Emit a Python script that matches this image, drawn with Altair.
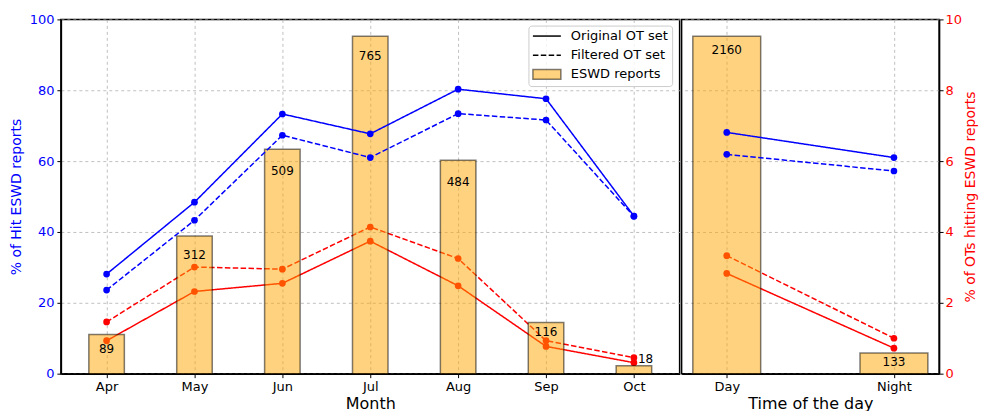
import altair as alt
import pandas as pd

# ---------------- data ----------------
months = ["Apr", "May", "Jun", "Jul", "Aug", "Sep", "Oct"]
month_reports = [89, 312, 509, 765, 484, 116, 18]
month_hit_orig = [28.1, 48.4, 73.3, 67.7, 80.3, 77.6, 44.5]
month_hit_filt = [23.6, 43.3, 67.3, 61.0, 73.4, 71.6, 44.4]
month_ot_orig = [0.93, 2.32, 2.55, 3.74, 2.48, 0.77, 0.31]
month_ot_filt = [1.46, 3.01, 2.95, 4.14, 3.25, 0.93, 0.45]
month_label_pos = [6.9, 33.5, 57.1, 89.6, 54.1, 11.8, 4.1]
month_label_shift = [0, 0, 0, 0, 0, 0, 1]

tods = ["Day", "Night"]
tod_reports = [2160, 133]
tod_hit_orig = [68.1, 61.0]
tod_hit_filt = [61.9, 57.2]
tod_ot_orig = [2.83, 0.72]
tod_ot_filt = [3.33, 1.00]
tod_label_pos = [91.3, 3.2]
tod_label_shift = [0, 0]

BLUE = "#0000ff"
RED = "#ff0000"
FONT = "DejaVu Sans"
H = 355


def make_df(cats, reports, ho, hf, oo, of, lp, sh):
    return pd.DataFrame({
        "cat": cats, "reports": reports, "hit_orig": ho, "hit_filt": hf,
        "ot_orig": oo, "ot_filt": of, "label_pos": lp, "shift": sh,
    })


def panel(df, cats, xtitle, width, pad, bar_size, side):
    base = alt.Chart(df)
    x = alt.X("cat:N", sort=cats,
              scale=alt.Scale(type="point", padding=pad),
              axis=alt.Axis(title=xtitle, labelAngle=0, grid=True))
    pct_scale = alt.Scale(domain=[0, 100], nice=False, zero=True)
    ot_scale = alt.Scale(domain=[0, 10], nice=False, zero=True)
    cnt_scale = alt.Scale(domain=[0, max(df["reports"]) * 1.05], nice=False, zero=True)

    if side == "left":
        pct_axis = alt.Axis(title="% of Hit ESWD reports", orient="left",
                            values=[0, 20, 40, 60, 80, 100], grid=True,
                            labelColor=BLUE, titleColor=BLUE, titlePadding=6)
        ot_axis = None
    else:
        pct_axis = None
        ot_axis = alt.Axis(title="% of OTs hitting ESWD reports", orient="right",
                           values=[0, 2, 4, 6, 8, 10], grid=True,
                           titleAngle=270, titleBaseline="top",
                           labelColor=RED, titleColor=RED, titlePadding=2, labelPadding=2)

    def ot_layer(field, dash):
        y = alt.Y(f"{field}:Q", scale=ot_scale, axis=ot_axis)
        ln = base.mark_line(color=RED, strokeWidth=1.5, strokeDash=dash).encode(x=x, y=y)
        pt = base.mark_point(color=RED, filled=True, opacity=1, size=45).encode(x=x, y=y)
        return alt.layer(ln, pt)

    def hit_layer(field, dash):
        y = alt.Y(f"{field}:Q", scale=pct_scale, axis=pct_axis)
        ln = base.mark_line(color=BLUE, strokeWidth=1.5, strokeDash=dash).encode(x=x, y=y)
        pt = base.mark_point(color=BLUE, filled=True, opacity=1, size=45).encode(x=x, y=y)
        return alt.layer(ln, pt)

    red = alt.layer(ot_layer("ot_orig", [1, 0]), ot_layer("ot_filt", [5.5, 2.4]))
    bars = base.mark_bar(size=bar_size, fill="orange", fillOpacity=0.5,
                         stroke="black", strokeOpacity=0.5, strokeWidth=1.5).encode(
        x=x, y=alt.Y("reports:Q", scale=cnt_scale, axis=None))
    blue = alt.layer(hit_layer("hit_orig", [1, 0]), hit_layer("hit_filt", [5.5, 2.4]))
    ytxt = alt.Y("label_pos:Q", scale=pct_scale, axis=None)
    txt1 = base.mark_text(fontSize=12, font=FONT, color="black", baseline="middle").encode(
        x=x, y=ytxt, text="reports:Q").transform_filter("datum.shift == 0")
    txt2 = base.mark_text(fontSize=12, font=FONT, color="black", baseline="middle",
                          align="left", dx=4).encode(
        x=x, y=ytxt, text="reports:Q").transform_filter("datum.shift == 1")

    layers = [red, bars, blue, txt1, txt2]

    if side == "left":
        one = alt.Data(values=[{"a": 1}])
        r = width  # legend anchored to the right edge of the panel
        box = alt.Chart(one).mark_rect(fill="white", fillOpacity=0.8, stroke="#cccccc",
                                       strokeWidth=1, cornerRadius=3).encode(
            x=alt.value(r - 151), x2=alt.value(r - 7), y=alt.value(6.7), y2=alt.value(67.3))
        l1 = alt.Chart(one).mark_rule(color="black", strokeWidth=1.5).encode(
            x=alt.value(r - 147), x2=alt.value(r - 119), y=alt.value(16.7))
        l2 = alt.Chart(one).mark_rule(color="black", strokeWidth=1.5, strokeDash=[5.5, 2.4]).encode(
            x=alt.value(r - 147), x2=alt.value(r - 119), y=alt.value(36))
        sw = alt.Chart(one).mark_rect(fill="orange", fillOpacity=0.5, stroke="black",
                                      strokeOpacity=0.5, strokeWidth=1.5).encode(
            x=alt.value(r - 147), x2=alt.value(r - 119), y=alt.value(50.3), y2=alt.value(60))
        texts = []
        for label, yy in [("Original OT set", 16.7), ("Filtered OT set", 36), ("ESWD reports", 55)]:
            texts.append(alt.Chart(one).mark_text(fontSize=13, font=FONT, align="left",
                                                  baseline="middle", color="black", text=label).encode(
                x=alt.value(r - 109), y=alt.value(yy)))
        layers += [box, l1, l2, sw] + texts

    return alt.layer(*layers).resolve_scale(y="independent").properties(width=width, height=H)


df_m = make_df(months, month_reports, month_hit_orig, month_hit_filt,
               month_ot_orig, month_ot_filt, month_label_pos, month_label_shift)
df_t = make_df(tods, tod_reports, tod_hit_orig, tod_hit_filt,
               tod_ot_orig, tod_ot_filt, tod_label_pos, tod_label_shift)

left = panel(df_m, months, "Month", 620, 0.52, 35.6, "left")
right = panel(df_t, tods, "Time of the day", 258, 0.27, 68, "right")

chart = alt.hconcat(left, right, spacing=0).properties(
    padding={"left": 0, "top": 4, "right": 0, "bottom": 0}
).configure_view(
    stroke="black", strokeWidth=1.5
).configure_axis(
    labelFont=FONT, titleFont=FONT, labelFontSize=13, titleFontSize=14,
    titleFontWeight="normal", gridColor="#b0b0b0", gridDash=[3, 3], gridWidth=0.8,
    domainColor="black", domainWidth=1.5, tickColor="black", tickSize=4, tickWidth=1,
    labelColor="black", titleColor="black", labelPadding=3
).configure_axisX(
    titleFontSize=16, titlePadding=2
)

chart.save("out.html", embed_options={"renderer": "svg", "actions": False})
